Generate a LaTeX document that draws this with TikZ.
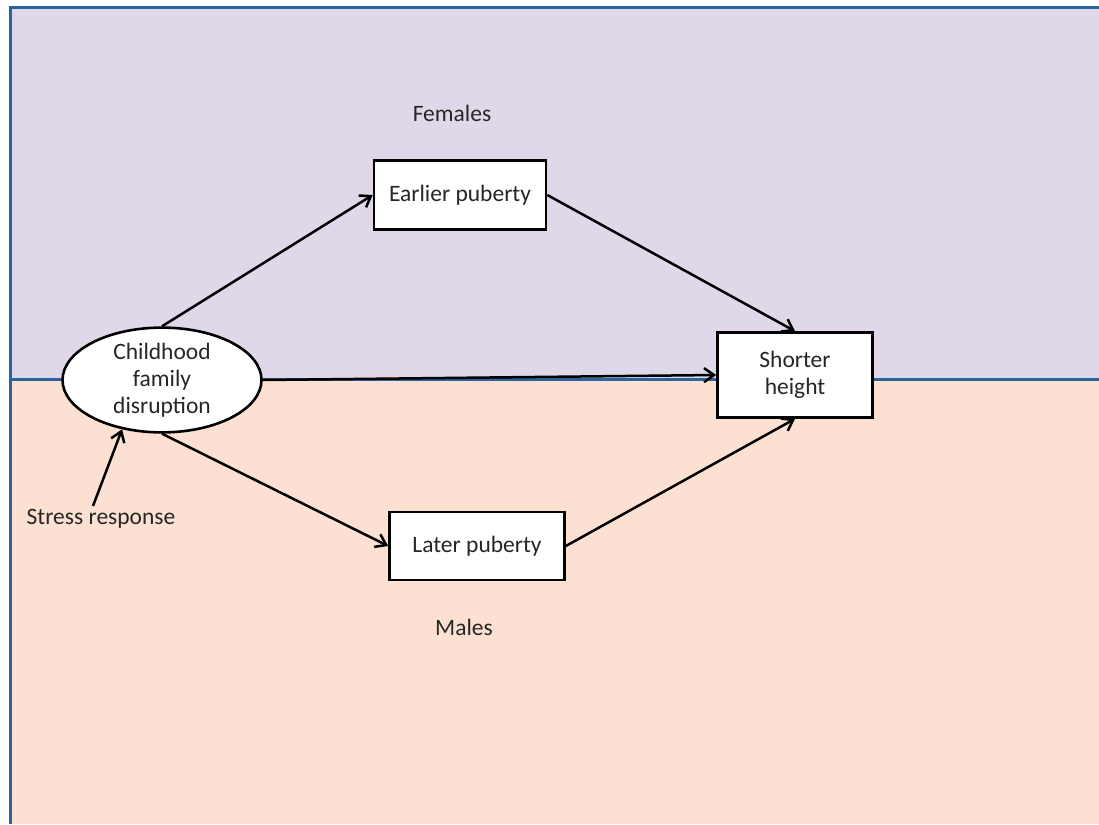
\documentclass[tikz,border=0pt]{standalone}
\usepackage{fontspec}
\setmainfont{Carlito}
\usetikzlibrary{shapes.geometric,arrows.meta}
\definecolor{lav}{HTML}{E0D8E8}
\definecolor{peach}{HTML}{FCE1D3}
\definecolor{bord}{HTML}{2A64A0}
\definecolor{txt}{HTML}{262626}
\begin{document}
\begin{tikzpicture}[x=1pt,y=-1pt,
  box/.style={draw=black,fill=white,line width=2.6pt,align=center,inner sep=0pt,text=txt,font=\fontsize{23.5}{27}\selectfont},
  lbl/.style={font=\fontsize{23.5}{27}\selectfont,inner sep=0pt,text=txt},
  conn/.style={draw=black,line width=2.5pt,-{Straight Barb[length=10pt,width=14pt,line width=2.5pt]}},
  edge/.style={draw=bord,line width=3pt}]
\useasboundingbox (0,0) rectangle (1099,824);
\fill[white] (0,0) rectangle (1099,824);
\fill[lav] (10,8) rectangle (1099,379);
\fill[peach] (10,379) rectangle (1099,824);
\draw[edge] (10,824) -- (10,8) -- (1099,8);
\draw[edge] (10,379) -- (1099,379);

\node[lbl] (fem) at (452,113) {Females};
\node[lbl] (mal) at (464,627) {Males};
\node[box,minimum width=172pt,minimum height=69pt] (ep) at (460,195) {Earlier puberty};
\node[box,minimum width=155pt,minimum height=85pt] (sh) at (795,375) {Shorter\\height};
\node[box,minimum width=175pt,minimum height=68pt] (lp) at (477,546) {Later puberty};
\node[box,ellipse,minimum width=199pt,minimum height=97pt] (ell) at (162,380) {Childhood\\family\\disruption};
\node[lbl] (sr) at (101,519) {Stress response};
\coordinate (srs) at (93,506);

\draw[conn] (ell.north) -- (ep.west);
\draw[conn] (ep.east) -- (sh.north);
\draw[conn] (ell.east) -- (sh.west);
\draw[conn] (ell.south) -- (lp.west);
\draw[conn] (lp.east) -- (sh.south);
\draw[conn] (srs) -- (ell.231);
\end{tikzpicture}
\end{document}
